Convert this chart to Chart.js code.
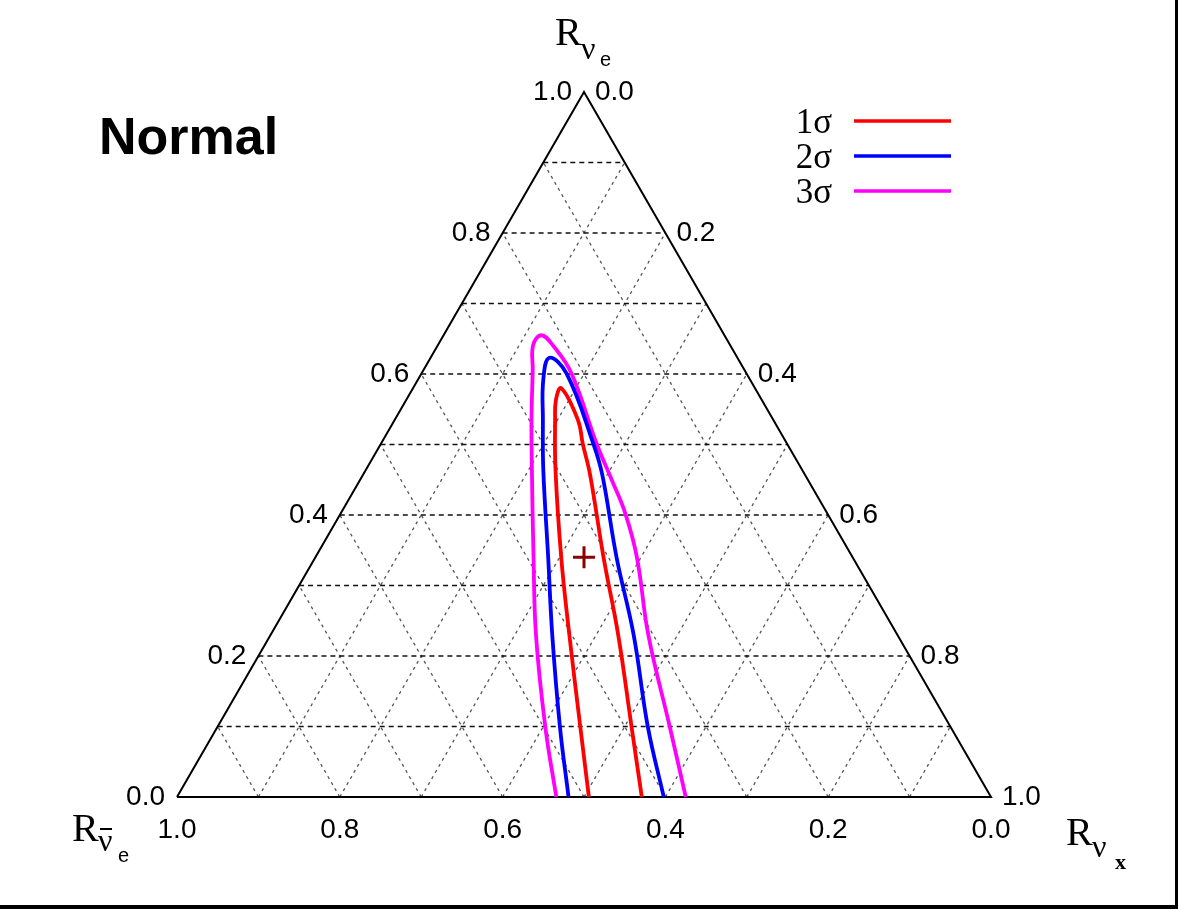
<!DOCTYPE html>
<html>
<head>
<meta charset="utf-8">
<script src="https://cdn.jsdelivr.net/npm/chart.js@4/dist/chart.umd.min.js"></script>
<style>
  html, body { margin: 0; padding: 0; background: #fff; }
  #wrap { width: 1178px; height: 909px; position: relative; }
</style>
</head>
<body>
<div id="wrap"><canvas id="ternary" width="1178" height="909"></canvas></div>
<script>
// ternary coordinates: e = R_nue (top vertex), x = R_nux (bottom right), R_nuebar = 1 - e - x
const gridTicks = [0.1, 0.2, 0.3, 0.4, 0.5, 0.6, 0.7, 0.8, 0.9];
const labelTicks = [0.0, 0.2, 0.4, 0.6, 0.8, 1.0];

const sigmaLabels = ['1\u03c3', '2\u03c3', '3\u03c3'];
const sigmaColors = ['#ff0000', '#0000ff', '#ff00ff'];

// 1 sigma contour
const nue1 = [0, 0.099, 0.230, 0.340, 0.464, 0.535, 0.563, 0.580, 0.535, 0.501, 0.457, 0.340, 0.230, 0.099, 0];
const nux1 = [0.506, 0.446, 0.367, 0.302, 0.233, 0.197, 0.184, 0.182, 0.225, 0.248, 0.279, 0.354, 0.427, 0.509, 0.571];
// 2 sigma contour
const nue2 = [0, 0.099, 0.230, 0.340, 0.464, 0.535, 0.592, 0.623, 0.601, 0.501, 0.457, 0.340, 0.230, 0.099, 0];
const nux2 = [0.481, 0.421, 0.346, 0.286, 0.218, 0.182, 0.154, 0.146, 0.178, 0.261, 0.294, 0.370, 0.446, 0.529, 0.598];
// 3 sigma contour
const nue3 = [0, 0.099, 0.230, 0.340, 0.464, 0.535, 0.606, 0.641, 0.655, 0.641, 0.601, 0.501, 0.450, 0.403, 0.340, 0.230, 0.099, 0];
const nux3 = [0.466, 0.403, 0.326, 0.268, 0.204, 0.168, 0.134, 0.117, 0.120, 0.141, 0.184, 0.265, 0.309, 0.349, 0.395, 0.464, 0.556, 0.625];

// best fit point
const bestNue = 0.34;
const bestNux = 0.33;

const H = Math.sqrt(3) / 2;
function tern(e, x) {
    return { x: x + e / 2, y: e * H };
}

function lineSet(points, color, width, dash, order) {
    return {
        type: 'scatter',
        data: points,
        showLine: true,
        borderColor: color,
        backgroundColor: color,
        borderWidth: width,
        borderDash: dash,
        pointRadius: 0,
        tension: 0,
        clip: false,
        order: order,
    };
}

const datasets = [];

// grid lines
gridTicks.forEach((k) => {
    datasets.push(lineSet([tern(k, 0), tern(k, 1 - k)], '#111', 1.7, [5, 4], 10));           // const R_nue
    datasets.push(lineSet([tern(0, k), tern(1 - k, k)], '#555', 1.3, [3, 4], 11));           // const R_nux
    datasets.push(lineSet([tern(0, 1 - k), tern(1 - k, 0)], '#555', 1.3, [3, 4], 11));       // const R_nuebar
});

// triangle outline
datasets.push(lineSet([tern(0, 0), tern(0, 1), tern(1, 0), tern(0, 0)], '#000', 2, [], 5));

// contours
const contours = [[nue1, nux1], [nue2, nux2], [nue3, nux3]];
contours.forEach((c, i) => {
    const pts = c[0].map((e, j) => tern(e, c[1][j]));
    const ds = lineSet(pts, sigmaColors[i], 3.8, [], 1);
    ds.tension = 0.4;
    ds.label = sigmaLabels[i];
    datasets.push(ds);
});

// best fit cross
datasets.push({
    type: 'scatter',
    data: [tern(bestNue, bestNux)],
    pointStyle: 'cross',
    pointRadius: 11,
    borderColor: '#8b0000',
    borderWidth: 3,
    clip: false,
    order: 0,
});

function subLabel(ctx, x, y, parts) {
    // parts: [text, font, dx, dy]
    parts.forEach((p) => {
        ctx.font = p[1];
        ctx.fillText(p[0], x + p[2], y + p[3]);
    });
}

const decor = {
    id: 'decor',
    afterDatasetsDraw(chart) {
        const ctx = chart.ctx;
        const sx = chart.scales.x;
        const sy = chart.scales.y;
        const px = (p) => [sx.getPixelForValue(p.x), sy.getPixelForValue(p.y)];
        ctx.save();
        ctx.fillStyle = '#000';
        ctx.font = '28px "Liberation Sans", Arial, sans-serif';
        ctx.textBaseline = 'middle';

        labelTicks.forEach((k) => {
            const t = k.toFixed(1);
            // left side: R_nue
            let [a, b] = px(tern(k, 0));
            ctx.textAlign = 'right';
            ctx.fillText(t, a - 12, b);
            // right side: R_nux
            [a, b] = px(tern(1 - k, k));
            ctx.textAlign = 'left';
            ctx.fillText(t, a + 11, b);
            // bottom: R_nuebar
            [a, b] = px(tern(0, 1 - k));
            ctx.textAlign = 'center';
            ctx.fillText(t, a, b + 33);
        });

        // axis titles
        ctx.textAlign = 'left';
        ctx.textBaseline = 'alphabetic';
        const serif = '"Liberation Serif", "Times New Roman", serif';
        const sans = '"Liberation Sans", Arial, sans-serif';
        subLabel(ctx, 555, 45, [['R', '40px ' + serif, 0, 0], ['\u03bd', '32px ' + serif, 26, 14], ['e', '20px ' + sans, 45, 21]]);
        subLabel(ctx, 72, 841, [['R', '40px ' + serif, 0, 0], ['\u03bd', '32px ' + serif, 26, 10], ['e', '20px ' + sans, 46, 21]]);
        ctx.fillRect(100, 828, 12, 2);
        subLabel(ctx, 1066, 845, [['R', '40px ' + serif, 0, 0], ['\u03bd', '32px ' + serif, 26, 12], ['x', 'bold 22px ' + serif, 49, 24]]);

        // title
        ctx.font = 'bold 52px ' + sans;
        ctx.fillText('Normal', 99, 154);

        // legend
        const rows = [121, 156, 191];
        rows.forEach((yy, i) => {
            ctx.font = '35px ' + serif;
            ctx.textAlign = 'right';
            ctx.fillStyle = '#000';
            ctx.fillText(sigmaLabels[i], 832, yy + 12);
            ctx.strokeStyle = sigmaColors[i];
            ctx.lineWidth = 3.6;
            ctx.beginPath();
            ctx.moveTo(854, yy);
            ctx.lineTo(951, yy);
            ctx.stroke();
        });

        // frame
        ctx.fillStyle = '#000';
        ctx.fillRect(1175, 0, 3, 909);
        ctx.fillRect(0, 905, 1178, 4);
        ctx.restore();
    }
};

new Chart(document.getElementById('ternary'), {
    type: 'scatter',
    data: { datasets: datasets },
    options: {
        responsive: false,
        devicePixelRatio: 1,
        animation: false,
        layout: { padding: { left: 177, right: 187, top: 92, bottom: 112 } },
        scales: {
            x: { type: 'linear', min: 0, max: 1, display: false },
            y: { type: 'linear', min: 0, max: H, display: false },
        },
        plugins: {
            legend: { display: false },
            tooltip: { enabled: false },
        },
    },
    plugins: [decor],
});
</script>
</body>
</html>
